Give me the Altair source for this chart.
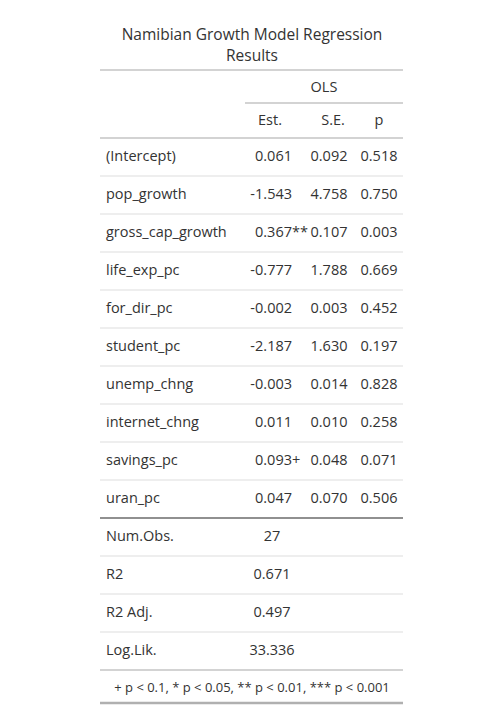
import altair as alt
import pandas as pd

title_lines = ["Namibian Growth Model Regression", "Results"]
terms = ["(Intercept)", "pop_growth", "gross_cap_growth", "life_exp_pc", "for_dir_pc",
         "student_pc", "unemp_chng", "internet_chng", "savings_pc", "uran_pc"]
est = ["0.061", "-1.543", "0.367", "-0.777", "-0.002", "-2.187", "-0.003", "0.011", "0.093", "0.047"]
stars = ["", "", "**", "", "", "", "", "", "+", ""]
se = ["0.092", "4.758", "0.107", "1.788", "0.003", "1.630", "0.014", "0.010", "0.048", "0.070"]
pv = ["0.518", "0.750", "0.003", "0.669", "0.452", "0.197", "0.828", "0.258", "0.071", "0.506"]
gof_names = ["Num.Obs.", "R2", "R2 Adj.", "Log.Lik."]
gof_vals = ["27", "0.671", "0.497", "33.336"]
note = "+ p < 0.1, * p < 0.05, ** p < 0.01, *** p < 0.001"

OFF = 8
L, R = 100, 403
ROW0, STEP = 157, 38
X_LAB, X_EST, X_SE, X_P, X_GOF = 106, 292, 329, 379, 272

texts = []
def t(x, y, s, align="center", size=14.5):
    texts.append(dict(x=x - OFF, y=y - OFF, text=s, align=align, size=size))

t(252, 35, title_lines[0], size=15.5)
t(252, 56, title_lines[1], size=15.5)
t(324, 88, "OLS")
t(270, 121, "Est.")
t(333, 121, "S.E.")
t(379, 121, "p")
for i, name in enumerate(terms):
    y = ROW0 + STEP * i
    t(X_LAB, y, name, "left")
    t(X_EST, y, est[i], "right")
    if stars[i]:
        t(X_EST, y, stars[i], "left")
    t(X_SE, y, se[i])
    t(X_P, y, pv[i])
for j, name in enumerate(gof_names):
    y = ROW0 + STEP * (len(terms) + j)
    t(X_LAB, y, name, "left")
    t(X_GOF, y, gof_vals[j])
t(252, 688, note, size=13)
tdf = pd.DataFrame(texts)

rules = []
def r(x1, x2, y, color, w):
    rules.append(dict(x=x1 - OFF, x2=x2 - OFF, y=y - OFF, color=color, w=w))
r(L, R, 70, "#d3d3d3", 2)
r(245, R, 103, "#d3d3d3", 2)
r(L, R, 138, "#d3d3d3", 2)
for i in range(len(terms) - 1):
    r(L, R, ROW0 + STEP * i + 19, "#dddddd", 1)
r(L, R, ROW0 + STEP * (len(terms) - 1) + 19, "#222222", 1.2)
for j in range(len(gof_names) - 1):
    r(L, R, ROW0 + STEP * (len(terms) + j) + 19, "#dddddd", 1)
r(L, R, 670, "#d3d3d3", 2)
r(L, R, 703, "#b0b0b0", 2.5)
rdf = pd.DataFrame(rules)

W, H = 486, 712
xs = alt.Scale(domain=[0, W], range=[0, W])
ys = alt.Scale(domain=[0, H], range=[0, H])

rule_layer = alt.Chart(rdf).mark_rule().encode(
    x=alt.X("x:Q", scale=xs, axis=None), x2="x2:Q",
    y=alt.Y("y:Q", scale=ys, axis=None),
    color=alt.Color("color:N", scale=None),
    strokeWidth=alt.StrokeWidth("w:Q", scale=None),
)

layers = [rule_layer]
for a in ["left", "center", "right"]:
    for sz in sorted(tdf["size"].unique()):
        sub = tdf[(tdf["align"] == a) & (tdf["size"] == sz)]
        if len(sub) == 0:
            continue
        layers.append(alt.Chart(sub).mark_text(
            align=a, baseline="middle", font="Open Sans", fontSize=float(sz), color="#333333"
        ).encode(
            x=alt.X("x:Q", scale=xs, axis=None),
            y=alt.Y("y:Q", scale=ys, axis=None),
            text="text:N",
        ))

chart = alt.layer(*layers).properties(width=W, height=H, padding=0, autosize="none").configure_view(stroke=None)
chart.save("out.html", embed_options={"renderer": "svg", "actions": False})
